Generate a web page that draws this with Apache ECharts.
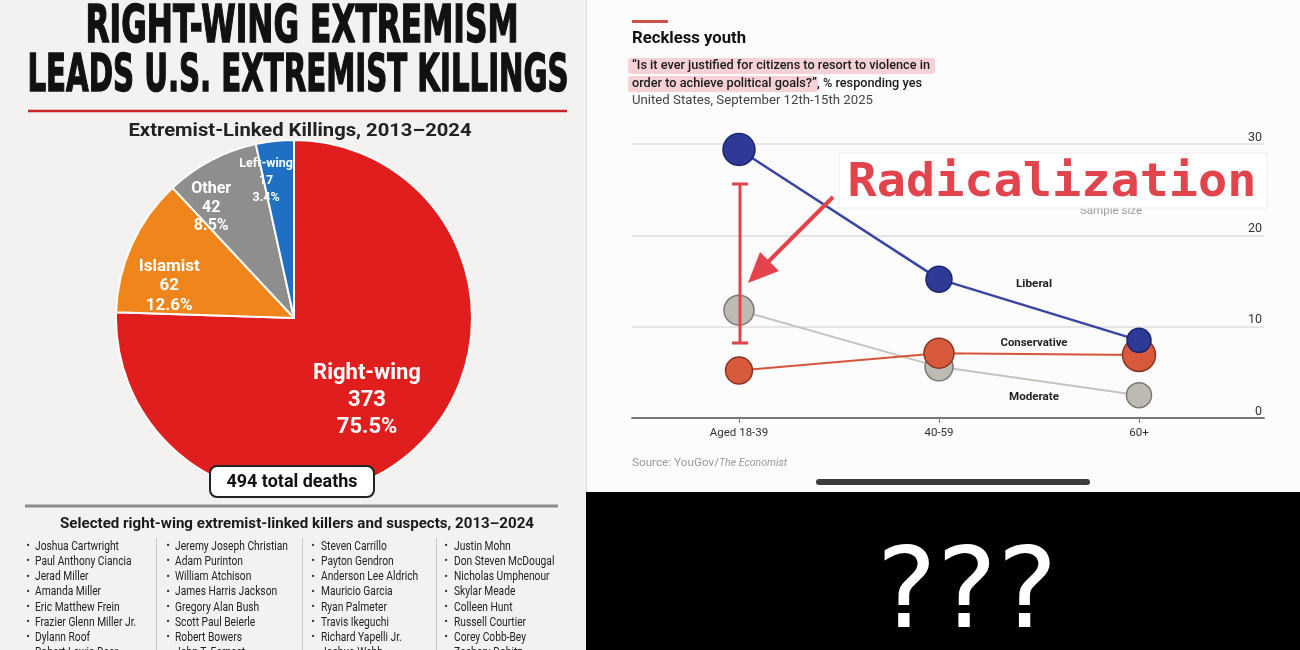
<!DOCTYPE html>
<html><head><meta charset="utf-8">
<script src="https://cdn.jsdelivr.net/npm/echarts@6/dist/echarts.min.js"></script>
<style>html,body{margin:0;padding:0;background:#f3f2f0}#c{width:1300px;height:650px}</style>
</head><body><div id="c"></div>
<script>
// ---------------- DATA ----------------
const mainTitle1 = 'RIGHT-WING EXTREMISM';
const mainTitle2 = 'LEADS U.S. EXTREMIST KILLINGS';
const pieTitle = 'Extremist-Linked Killings, 2013–2024';
const pieCategories = ['Right-wing', 'Islamist', 'Other', 'Left-wing'];
const pieDeaths = [373, 62, 42, 17];
const listTitle = 'Selected right-wing extremist-linked killers and suspects, 2013–2024';
const namesCol1 = ['Joshua Cartwright','Paul Anthony Ciancia','Jerad Miller','Amanda Miller','Eric Matthew Frein','Frazier Glenn Miller Jr.','Dylann Roof','Robert Lewis Dear'];
const namesCol2 = ['Jeremy Joseph Christian','Adam Purinton','William Atchison','James Harris Jackson','Gregory Alan Bush','Scott Paul Beierle','Robert Bowers','John T. Earnest'];
const namesCol3 = ['Steven Carrillo','Payton Gendron','Anderson Lee Aldrich','Mauricio Garcia','Ryan Palmeter','Travis Ikeguchi','Richard Yapelli Jr.','Joshua Webb'];
const namesCol4 = ['Justin Mohn','Don Steven McDougal','Nicholas Umphenour','Skylar Meade','Colleen Hunt','Russell Courtier','Corey Cobb-Bey','Zachary Dobitz'];

const chartKicker = 'Reckless youth';
const questionLine1 = '“Is it ever justified for citizens to resort to violence in';
const questionLine2 = 'order to achieve political goals?”, % responding yes';
const surveyLine = 'United States, September 12th-15th 2025';
const ageGroups = ['Aged 18-39', '40-59', '60+'];
const liberal = [29.4, 15.2, 8.5];
const conservative = [5.2, 7.1, 6.9];
const moderate = [11.8, 5.6, 2.5];
const seriesNames = ['Liberal', 'Conservative', 'Moderate'];
const yMin = 0, yMax = 30, yStep = 10;
const sourceText = 'Source: YouGov/';
const sourceItalic = 'The Economist';
const annotation = 'Radicalization';
const sampleSizeLabel = 'Sample size';
const mystery = '???';

// ---------------- STYLE ----------------
const pieColors = ['#e01e1e', '#f0861b', '#8e8e8e', '#1f6fc5'];
const pieLabelStyle = [
  {fontSize: 22, lineHeight: 27, off: [9, 16]},
  {fontSize: 17, lineHeight: 19.5, off: [-41, 6]},
  {fontSize: 16, lineHeight: 18.5, off: [-40, -29]},
  {fontSize: 12.5, lineHeight: 17, off: [-18, -46]}
];
const markerDiam = {Liberal: [32, 26, 24], Conservative: [27, 30, 33], Moderate: [30, 28, 25]};
const seriesStyle = {
  Liberal: {line: '#3a44a2', fill: '#2e3a95', border: '#1c2670', lw: 2.5},
  Conservative: {line: '#d6553a', fill: '#d65a3b', border: '#8a3422', lw: 2},
  Moderate: {line: '#c6c4bf', fill: '#bdbab3', border: '#7a7873', lw: 2}
};

const total = pieDeaths.reduce((a, b) => a + b, 0);
const cv = document.createElement('canvas').getContext('2d');
function txt(text, o) {
  const font = (o.italic ? 'italic ' : '') + (o.weight || 'normal') + ' ' + o.size + 'px ' + (o.family || "Roboto, 'DejaVu Sans', sans-serif");
  cv.font = font;
  const w = cv.measureText(text).width;
  const s = o.w ? o.w / w : 1;
  const el = {type: 'text', x: o.x, y: o.y, scaleX: s, z: o.z == null ? 10 : o.z, silent: true,
    style: {text: text, font: font, fill: o.fill || '#222', align: o.align || 'left', verticalAlign: o.va || 'middle'}};
  if (o.stroke) { el.style.stroke = o.stroke; el.style.lineWidth = o.lineWidth || 1; }
  el._w = w * s;
  return el;
}
function line(x1, y1, x2, y2, color, lw, z) {
  return {type: 'line', z: z == null ? 5 : z, silent: true, shape: {x1, y1, x2, y2}, style: {stroke: color, lineWidth: lw}};
}
function rect(x, y, w, h, fill, z, extra) {
  return Object.assign({type: 'rect', z: z == null ? 0 : z, silent: true, shape: {x, y, width: w, height: h, r: (extra && extra.r) || 0},
    style: Object.assign({fill: fill}, (extra && extra.style) || {})});
}

const g = [];
// panels
g.push(rect(587, 0, 713, 492, '#fcfcfc', 0));
g.push(line(586.5, 0, 586.5, 492, '#dddddd', 1, 1));
g.push(rect(586, 492, 714, 158, '#000000', 1));

// left titles
const titleFam = "'DejaVu Sans', sans-serif";
g.push(txt(mainTitle1, {x: 302, y: 28, size: 52, weight: 'bold', family: titleFam, w: 433, align: 'center', fill: '#111', stroke: '#111', lineWidth: 1.6}));
g.push(txt(mainTitle2, {x: 298, y: 77, size: 52, weight: 'bold', family: titleFam, w: 541, align: 'center', fill: '#111', stroke: '#111', lineWidth: 1.6}));
g.push(line(28, 111, 567, 111, '#c9242b', 2.5));
g.push(txt(pieTitle, {x: 300, y: 131, size: 19, weight: 'bold', w: 343, align: 'center', fill: '#222'}));

// total box
g.push(rect(210, 466, 164, 31, '#ffffff', 50, {r: 7, style: {stroke: '#222', lineWidth: 2}}));
g.push(txt(total + ' total deaths', {x: 292, y: 482, size: 19, weight: 'bold', w: 131, align: 'center', fill: '#111', z: 51}));

// list
g.push(line(25, 506, 558, 506, '#8a8a8a', 3));
g.push(txt(listTitle, {x: 297, y: 524, size: 15, weight: 'bold', w: 474, align: 'center', fill: '#1a1a1a'}));
[156, 302, 436].forEach(x => g.push(line(x + 0.5, 538, x + 0.5, 650, '#c9c9c9', 1)));
cv.font = "normal 13px Roboto, 'DejaVu Sans', sans-serif";
const nameScale = 113 / cv.measureText('Jeremy Joseph Christian').width;
const cols = [namesCol1, namesCol2, namesCol3, namesCol4];
const bulletX = [28, 168, 313, 446];
const nameX = [35, 175, 321, 454];
cols.forEach((col, ci) => {
  col.forEach((n, ri) => {
    const y = 546.5 + ri * 15.2;
    g.push(txt('•', {x: bulletX[ci], y: y, size: 11, align: 'center', fill: '#333'}));
    const t = txt(n, {x: nameX[ci], y: y, size: 13, fill: '#222'});
    t.scaleX = nameScale;
    g.push(t);
  });
});

// right panel header
g.push(rect(632, 20, 36, 3, '#c9524b', 5));
g.push(txt(chartKicker, {x: 632, y: 39, size: 16, weight: 'bold', w: 114, fill: '#111'}));
g.push(rect(628, 58, 307, 16, '#f6d2d6', 4, {r: 3}));
g.push(rect(628, 76, 190, 16, '#f6d2d6', 4, {r: 3}));
g.push(txt(questionLine1, {x: 632, y: 65.5, size: 13, weight: 500, w: 298, fill: '#1a1a1a'}));
g.push(txt(questionLine2, {x: 632, y: 83.5, size: 13, weight: 500, w: 290, fill: '#1a1a1a'}));
g.push(txt(surveyLine, {x: 632, y: 101, size: 13, w: 241, fill: '#444'}));

// series end labels
const lblY = {Liberal: 284, Conservative: 343, Moderate: 397};
const lblW = {Liberal: 36, Conservative: 67, Moderate: 50};
seriesNames.forEach(n => g.push(txt(n, {x: 1034, y: lblY[n], size: 11.5, weight: 'bold', w: lblW[n], align: 'center', fill: '#222', z: 8})));

// annotation overlay
g.push(txt(sampleSizeLabel, {x: 1111, y: 211, size: 11, w: 62, align: 'center', fill: '#9a9a9a', z: 20}));
g.push(rect(839, 153, 428, 55, 'rgba(255,255,255,0.97)', 21, {style: {stroke: '#eeeeee', lineWidth: 1}}));
g.push(txt(annotation, {x: 1052, y: 184, size: 46, weight: 'bold', family: "'DejaVu Sans Mono', 'Liberation Mono', monospace", w: 409, align: 'center', fill: '#e1444d', z: 22}));
const red = '#e3434b';
g.push(line(740, 184, 740, 343, red, 3, 30));
g.push(line(732, 184, 748, 184, red, 3, 30));
g.push(line(732, 343, 748, 343, red, 3, 30));
g.push(line(833, 197, 768, 262, red, 4, 30));
g.push({type: 'polygon', z: 30, silent: true, shape: {points: [[748, 283], [760, 252], [779, 271]]}, style: {fill: red}});

// source and scroll bar
const s1 = txt(sourceText, {x: 632, y: 463, size: 11.5, fill: '#9a9a9a', w: 87});
g.push(s1);
g.push(txt(sourceItalic, {x: 632 + s1._w, y: 463, size: 11.5, italic: true, fill: '#9a9a9a', w: 68}));
g.push(rect(816, 479, 274, 6, '#3c3c3c', 5, {r: 3}));

// ???
g.push(txt(mystery, {x: 967, y: 598, size: 112, family: "'DejaVu Sans', 'Noto Sans', sans-serif", w: 181, align: 'center', fill: '#ffffff', z: 5}));

// ---------------- CHART ----------------
const mkSeries = (name, data, z) => ({
  type: 'line', name: name, data: data, xAxisIndex: 1, yAxisIndex: 1, z: z,
  symbol: 'circle',
  symbolSize: (v, p) => markerDiam[name][p.dataIndex],
  lineStyle: {color: seriesStyle[name].line, width: seriesStyle[name].lw},
  itemStyle: {color: seriesStyle[name].fill, borderColor: seriesStyle[name].border, borderWidth: 1.5},
  emphasis: {disabled: true}, silent: true, clip: false, animation: false
});

const option = {
  backgroundColor: '#f3f2f0',
  animation: false,
  grid: [
    {left: 632, right: 36, top: 144, bottom: 232},
    {left: 639, right: 61, top: 144, bottom: 232}
  ],
  xAxis: [
    {gridIndex: 0, type: 'value', min: 0, max: 1, axisLine: {show: true, lineStyle: {color: '#777', width: 2}},
      axisTick: {show: false}, axisLabel: {show: false}, splitLine: {show: false}},
    {gridIndex: 1, type: 'category', data: ageGroups, axisLine: {show: false},
      axisTick: {show: true, alignWithLabel: true, length: 5, lineStyle: {color: '#777'}},
      axisLabel: {color: '#333', fontSize: 11.5, margin: 9, fontFamily: 'Roboto'}}
  ],
  yAxis: [
    {gridIndex: 0, type: 'value', min: yMin, max: yMax, interval: yStep, position: 'right',
      axisLine: {show: false}, axisTick: {show: false},
      splitLine: {lineStyle: {color: '#dedede', width: 1.5}},
      axisLabel: {inside: true, color: '#333', fontSize: 12.5, verticalAlign: 'bottom', margin: 2, fontFamily: 'Roboto'}},
    {gridIndex: 1, type: 'value', min: yMin, max: yMax, show: false}
  ],
  series: [
    {
      type: 'pie', center: [294, 318], radius: 178, startAngle: 90, clockwise: true,
      silent: true, animation: false, z: 2,
      itemStyle: {borderColor: '#ffffff', borderWidth: 2},
      label: {position: 'inside', color: '#fff', fontWeight: 'bold', fontFamily: "Roboto, 'DejaVu Sans', sans-serif",
        formatter: p => p.name + '\n' + p.value + '\n' + (p.value / total * 100).toFixed(1) + '%'},
      labelLine: {show: false},
      labelLayout: p => ({dx: pieLabelStyle[p.dataIndex].off[0], dy: pieLabelStyle[p.dataIndex].off[1]}),
      emphasis: {disabled: true},
      data: pieCategories.map((n, i) => ({name: n, value: pieDeaths[i], itemStyle: {color: pieColors[i]},
        label: {fontSize: pieLabelStyle[i].fontSize, lineHeight: pieLabelStyle[i].lineHeight}}))
    },
    mkSeries('Moderate', moderate, 3),
    mkSeries('Conservative', conservative, 4),
    mkSeries('Liberal', liberal, 5)
  ],
  graphic: {elements: g}
};
const chart = echarts.init(document.getElementById('c'), null, {renderer: 'canvas'});
chart.setOption(option);
</script></body></html>
